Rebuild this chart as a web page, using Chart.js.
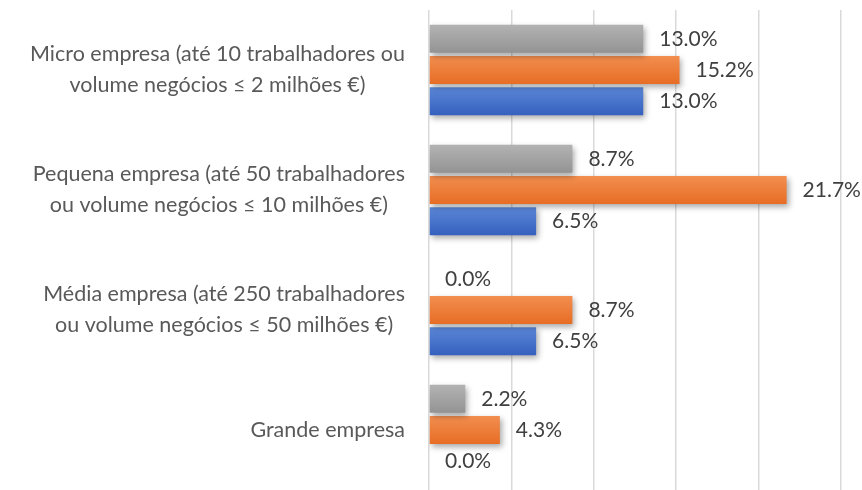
<!DOCTYPE html>
<html>
<head>
<meta charset="utf-8">
<script src="https://cdn.jsdelivr.net/npm/chart.js@4.4.0/dist/chart.umd.min.js"></script>
<style>
  html, body { margin: 0; background: #fff; }
  #wrap { width: 862px; height: 490px; }
</style>
</head>
<body>
<div id="wrap"><canvas id="grafico"></canvas></div>
<script>
// dados
const categories = [
  ['Micro empresa (até 10 trabalhadores ou', 'volume negócios ≤ 2 milhões €)'],
  ['Pequena empresa (até 50 trabalhadores', 'ou volume negócios ≤ 10 milhões €)'],
  ['Média empresa (até 250 trabalhadores', 'ou volume negócios ≤ 50 milhões €)'],
  'Grande empresa'
]
const serieCinza   = [13.0, 8.7, 0.0, 2.2]
const serieLaranja = [15.2, 21.7, 8.7, 4.3]
const serieAzul    = [13.0, 6.5, 6.5, 0.0]
const xTicks = [0, 5, 10, 15, 20, 25]

const FONTE = 'Lato'
Chart.defaults.font.family = FONTE

// degradê vertical em cada barra
function degrade(topo, base) {
  return (c) => {
    const el = c.element
    if (!el || !el.height) return base
    const g = c.chart.ctx.createLinearGradient(0, el.y - el.height / 2, 0, el.y + el.height / 2)
    g.addColorStop(0, topo)
    g.addColorStop(1, base)
    return g
  }
}

// sombra por baixo das barras
const sombra = {
  id: 'sombra',
  beforeDatasetsDraw(chart) {
    const { ctx } = chart
    ctx.save()
    ctx.shadowColor = 'rgba(0,0,0,0.35)'
    ctx.shadowBlur = 6
    ctx.shadowOffsetX = 2
    ctx.shadowOffsetY = 3
  },
  afterDatasetsDraw(chart) {
    chart.ctx.restore()
  }
}

// rótulos de valor
const rotulos = {
  id: 'rotulos',
  afterDatasetsDraw(chart) {
    const { ctx } = chart
    ctx.save()
    ctx.font = '21px ' + FONTE
    ctx.fillStyle = '#404040'
    ctx.textAlign = 'left'
    ctx.textBaseline = 'middle'
    chart.data.datasets.forEach((ds, i) => {
      chart.getDatasetMeta(i).data.forEach((bar, j) => {
        ctx.fillText(ds.data[j].toFixed(1) + '%', bar.x + 16, bar.y)
      })
    })
    ctx.restore()
  }
}

// categorias: bloco alinhado à direita, linhas centradas no bloco (como no Excel)
const categoriasEixo = {
  id: 'categoriasEixo',
  afterDraw(chart) {
    const { ctx } = chart
    const y = chart.scales.y
    const direita = chart.chartArea.left - 24
    const alturaLinha = 31
    ctx.save()
    ctx.font = '21.5px ' + FONTE
    ctx.fillStyle = '#595959'
    ctx.textAlign = 'center'
    ctx.textBaseline = 'middle'
    chart.data.labels.forEach((lab, i) => {
      const linhas = Array.isArray(lab) ? lab : [lab]
      const largura = Math.max(...linhas.map(l => ctx.measureText(l).width))
      const cx = direita - largura / 2
      const cy = y.getPixelForTick(i)
      linhas.forEach((l, k) => {
        ctx.fillText(l, cx, cy + (k - (linhas.length - 1) / 2) * alturaLinha)
      })
    })
    ctx.restore()
  }
}

const chart = new Chart(document.getElementById('grafico'), {
  type: 'bar',
  data: {
    labels: categories,
    datasets: [
      { label: 'Série 1', data: serieCinza,   backgroundColor: degrade('#b3b3b3', '#939393') },
      { label: 'Série 2', data: serieLaranja, backgroundColor: degrade('#f28e50', '#e76d24') },
      { label: 'Série 3', data: serieAzul,    backgroundColor: degrade('#5b86d6', '#3461bf') }
    ]
  },
  options: {
    indexAxis: 'y',
    responsive: true,
    maintainAspectRatio: false,
    animation: false,
    categoryPercentage: 0.78,
    barPercentage: 0.9,
    layout: { padding: { top: 10, right: 21, bottom: 0, left: 8 } },
    scales: {
      x: {
        min: 0,
        max: 25,
        afterBuildTicks: (s) => { s.ticks = xTicks.map(v => ({ value: v })) },
        afterFit: (s) => { s.height = 0; s.paddingLeft = 0; s.paddingRight = 0 },
        ticks: { display: false },
        grid: { color: '#d9d9d9', lineWidth: 1.5, drawTicks: false },
        border: { display: false }
      },
      y: {
        afterFit: (s) => { s.width = 421; s.paddingTop = 0; s.paddingBottom = 0 },
        grid: { display: false, drawTicks: false },
        border: { display: false },
        ticks: { display: false }
      }
    },
    plugins: {
      legend: { display: false },
      tooltip: { enabled: false }
    }
  },
  plugins: [sombra, rotulos, categoriasEixo]
})
chart.update()
</script>
</body>
</html>
